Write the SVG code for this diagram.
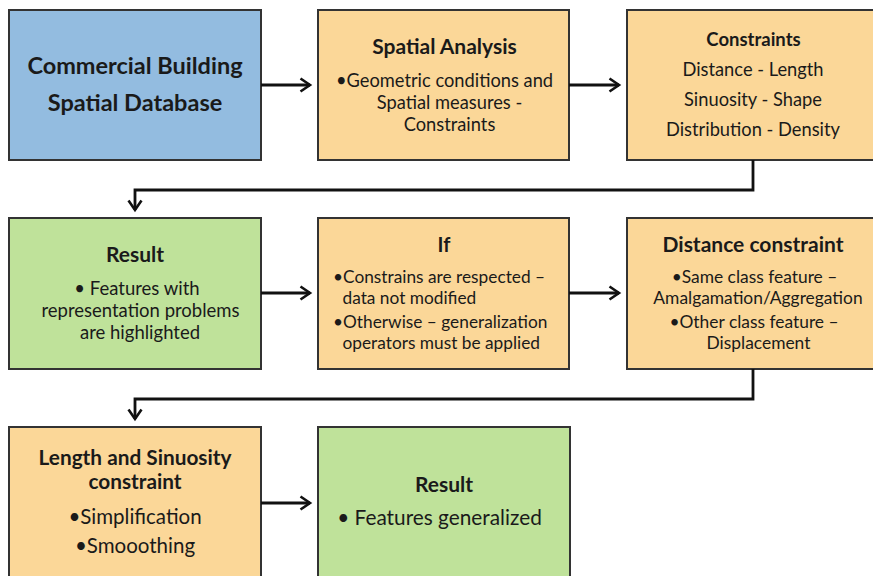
<svg xmlns="http://www.w3.org/2000/svg" width="873" height="576" viewBox="0 0 873 576">
  <defs>
    <marker id="chev" markerWidth="14" markerHeight="16" refX="11" refY="8" orient="auto" markerUnits="userSpaceOnUse">
      <path d="M1.5,1.5 L11,8 L1.5,14.5" fill="none" stroke="#111" stroke-width="2.6"/>
    </marker>
    <style>
      .box { stroke: #333; stroke-width: 2; }
      .blue { fill: #93BCE0; }
      .orange { fill: #FBD798; }
      .green { fill: #BFE29A; }
      text { font-family: Lato, "Liberation Sans", sans-serif; fill: #1a1a1a; }
      .c { text-anchor: middle; }
      .b { font-weight: bold; }
      .link { fill: none; stroke: #111; stroke-width: 2.8; marker-end: url(#chev); }
    </style>
  </defs>
  <rect width="873" height="576" fill="#fff"/>

  <g id="n-database">
    <rect class="box blue" x="9" y="10" width="252" height="150"/>
    <text class="c b" x="135" y="74" font-size="23.5">Commercial Building</text>
    <text class="c b" x="135" y="111" font-size="23.5">Spatial Database</text>
  </g>

  <g id="n-spatial-analysis">
    <rect class="box orange" x="318" y="10" width="251" height="150"/>
    <text class="c b" x="444.5" y="54" font-size="21">Spatial Analysis</text>
    <text class="c" x="444.5" y="87" font-size="18.3">•Geometric conditions and</text>
    <text class="c" x="449.5" y="109" font-size="18.3">Spatial measures -</text>
    <text class="c" x="449.5" y="131" font-size="18.3">Constraints</text>
  </g>

  <g id="n-constraints">
    <rect class="box orange" x="627" y="10" width="252" height="150"/>
    <text class="c b" x="753.5" y="46" font-size="18.5">Constraints</text>
    <text class="c" x="753" y="76" font-size="18.3">Distance - Length</text>
    <text class="c" x="753" y="106" font-size="18.3">Sinuosity - Shape</text>
    <text class="c" x="753" y="136" font-size="18.3">Distribution - Density</text>
  </g>

  <g id="n-result-1">
    <rect class="box green" x="9" y="218" width="252" height="151"/>
    <text class="c b" x="135" y="262" font-size="21">Result</text>
    <text class="c" x="137" y="295" font-size="18.5">• Features with</text>
    <text class="c" x="140.5" y="317" font-size="18.5">representation problems</text>
    <text class="c" x="140" y="339" font-size="18.5">are highlighted</text>
  </g>

  <g id="n-if">
    <rect class="box orange" x="318" y="218" width="251" height="151"/>
    <text class="c b" x="444" y="252" font-size="20">If</text>
    <text x="333" y="283" font-size="17.3">•Constrains are respected –</text>
    <text x="342.5" y="304" font-size="17.3">data not modified</text>
    <text x="333" y="328" font-size="17.3">•Otherwise – generalization</text>
    <text x="342.5" y="349" font-size="17.3">operators must be applied</text>
  </g>

  <g id="n-distance">
    <rect class="box orange" x="627" y="218" width="252" height="151"/>
    <text class="c b" x="753" y="252" font-size="21">Distance constraint</text>
    <text class="c" x="754.5" y="283" font-size="17.4">•Same class feature –</text>
    <text class="c" x="758" y="304" font-size="17.4">Amalgamation/Aggregation</text>
    <text class="c" x="754" y="328" font-size="17.4">•Other class feature –</text>
    <text class="c" x="758.5" y="349" font-size="17.4">Displacement</text>
  </g>

  <g id="n-length-sinuosity">
    <rect class="box orange" x="9" y="427" width="252" height="160"/>
    <text class="c b" x="135" y="465" font-size="20.8">Length and Sinuosity</text>
    <text class="c b" x="135" y="489" font-size="20.8">constraint</text>
    <text class="c" x="135" y="524" font-size="20.5">•Simplification</text>
    <text class="c" x="135" y="553" font-size="20.5">•Smooothing</text>
  </g>

  <g id="n-result-2">
    <rect class="box green" x="318" y="427" width="252" height="160"/>
    <text class="c b" x="444" y="492" font-size="21">Result</text>
    <text class="c" x="439.5" y="525" font-size="20.8">• Features generalized</text>
  </g>

  <g id="connectors">
    <path class="link" d="M261,85 H310"/>
    <path class="link" d="M569,85 H619"/>
    <path class="link" d="M753,160 V190 H135 V210"/>
    <path class="link" d="M261,293 H310"/>
    <path class="link" d="M569,293 H619"/>
    <path class="link" d="M753,369 V399 H135 V419"/>
    <path class="link" d="M261,503 H310"/>
  </g>
</svg>
